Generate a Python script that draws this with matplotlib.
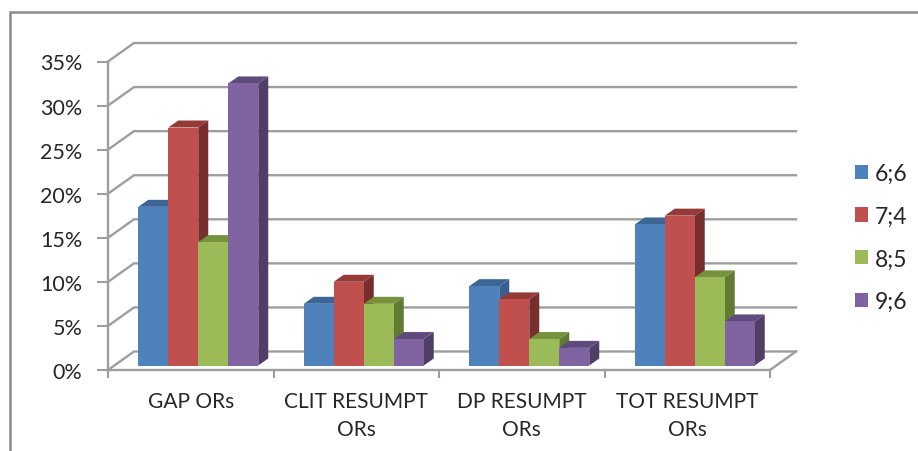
import matplotlib
matplotlib.use('Agg')
import matplotlib.pyplot as plt
from matplotlib.patches import Patch

plt.rcParams['font.family'] = ['Lato', 'DejaVu Sans']

categories = ['GAP ORs', 'CLIT RESUMPT\nORs', 'DP RESUMPT\nORs', 'TOT RESUMPT\nORs']
series_names = ['6;6', '7;4', '8;5', '9;6']
v_66 = [18, 7, 9, 16]
v_74 = [27, 9.5, 7.5, 17]
v_85 = [14, 7, 3, 10]
v_96 = [32, 3, 2, 5]
yticks = [0, 5, 10, 15, 20, 25, 30, 35]
ylabels = ['0%', '5%', '10%', '15%', '20%', '25%', '30%', '35%']

front_cols = ['#4F81BD', '#C0504D', '#9BBB59', '#8064A2']
top_cols = ['#3C6696', '#953A37', '#76923C', '#5F4A7D']
side_cols = ['#37608F', '#772F2D', '#637A32', '#513E66']
text_col = '#262626'
grid_col = '#9E9E9E'

W, H = 918, 452
fig = plt.figure(figsize=(W / 100, H / 100), dpi=100, facecolor='white')
ax = fig.add_axes([108 / W, 1 - 371 / H, 662 / W, 308.5 / H])
ax.set_xlim(0, 4)
ax.set_ylim(0, 35)

# pixels -> data units, the 3d look is only offsets
px = 4 / 662
py = 35 / 308.5
wall_dx, wall_dy = 26 * px, 18.5 * py

# back wall lines + diagonals on the left, floor on the right
for t in yticks:
    ax.plot([0, wall_dx, 4 + wall_dx], [t, t + wall_dy, t + wall_dy], color=grid_col, lw=1.7,
            clip_on=False, zorder=1, solid_joinstyle='miter')
ax.plot([4, 4 + wall_dx], [0, wall_dy], color=grid_col, lw=1.7, clip_on=False, zorder=1)

# bars
bar_w = 30 * px
off_x, off_y = 7.5 * px, 4.5 * py
dep_x, dep_y = 10 * px, 7 * py
all_vals = [v_66, v_74, v_85, v_96]
for s, vals in enumerate(all_vals):
    for c, v in enumerate(vals):
        left = c + 0.5 + off_x + (s - 2) * bar_w
        right = left + bar_w
        z = 3 + c * 10 + s
        ax.bar(left, v, bar_w, bottom=off_y, align='edge', color=front_cols[s],
               linewidth=0, clip_on=False, zorder=z + 0.2)
        top = v + off_y
        ax.fill([left, left + dep_x, right + dep_x, right], [top, top + dep_y, top + dep_y, top],
                color=top_cols[s], lw=0, clip_on=False, zorder=z + 0.1)
        ax.fill([right, right + dep_x, right + dep_x, right], [off_y, off_y + dep_y, top + dep_y, top],
                color=side_cols[s], lw=0, clip_on=False, zorder=z)

# axes
for k in ['top', 'right']:
    ax.spines[k].set_visible(False)
for k in ['left', 'bottom']:
    ax.spines[k].set_color(grid_col)
    ax.spines[k].set_linewidth(1.7)
    ax.spines[k].set_zorder(2)
ax.set_yticks(yticks)
ax.set_yticklabels(ylabels, fontsize=15.5, color=text_col)
ax.tick_params(axis='y', length=8, width=1.5, color=grid_col, pad=10.5)
ax.set_xticks([0, 1, 2, 3, 4])
ax.set_xticklabels([])
ax.tick_params(axis='x', which='major', length=6, width=1.5, color=grid_col)
ax.set_xticks([0.5, 1.5, 2.5, 3.5], minor=True)
ax.set_xticklabels(categories, minor=True, fontsize=15, color=text_col, linespacing=1.5)
ax.tick_params(axis='x', which='minor', length=0, pad=15)

# legend
handles = [Patch(facecolor=col, edgecolor='none') for col in front_cols]
ax.legend(handles, series_names, loc='center left', frameon=False, fontsize=16.5,
          labelcolor=text_col, handlelength=0.57, handleheight=0.57, handletextpad=0.3,
          labelspacing=0.95, borderpad=0, borderaxespad=0,
          bbox_to_anchor=(855 / W, 1 - 238.5 / H), bbox_transform=fig.transFigure)

# outer frame, cut off by the image on the right and bottom
fig.add_artist(plt.Line2D([9.5 / W, 9.5 / W, 1], [0, 1 - 12.5 / H, 1 - 12.5 / H], color='#8A8A8A',
                          lw=1.8, solid_joinstyle='miter'))

fig.savefig('out.png', dpi=100)
